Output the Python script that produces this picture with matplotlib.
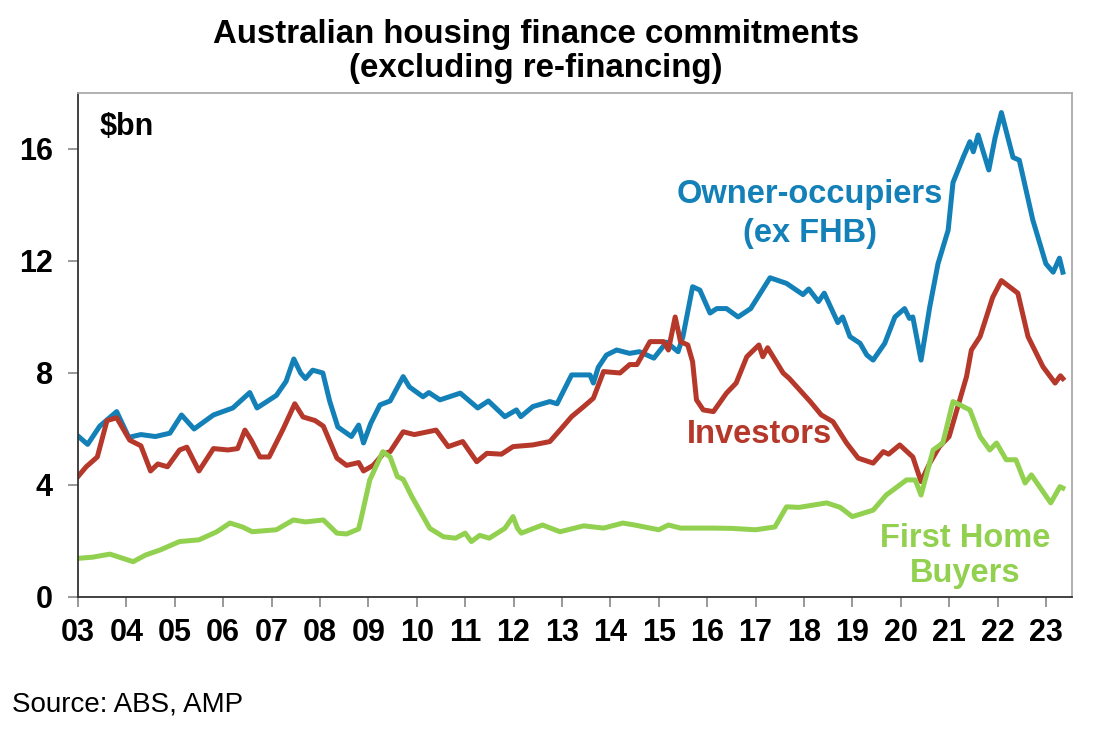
import matplotlib.pyplot as plt

plt.rcParams['font.family'] = ['Liberation Sans', 'DejaVu Sans']

# owner-occupiers (ex first home buyers), $bn
oo_years = [2003.0, 2003.2, 2003.45, 2003.8, 2004.05, 2004.3, 2004.6, 2004.9, 2005.14, 2005.4,
            2005.8, 2006.2, 2006.55, 2006.7, 2007.1, 2007.3, 2007.46, 2007.6, 2007.7, 2007.85,
            2008.06, 2008.2, 2008.37, 2008.65, 2008.8, 2008.9, 2009.05, 2009.24, 2009.45, 2009.72,
            2009.85, 2010.13, 2010.25, 2010.48, 2010.9, 2011.26, 2011.48, 2011.82, 2012.06, 2012.15,
            2012.4, 2012.75, 2012.9, 2013.2, 2013.58, 2013.65, 2013.75, 2013.92, 2014.13, 2014.4,
            2014.6, 2014.9, 2015.16, 2015.4, 2015.5, 2015.7, 2015.85, 2016.06, 2016.2, 2016.4,
            2016.64, 2016.9, 2017.1, 2017.3, 2017.64, 2017.98, 2018.1, 2018.3, 2018.42, 2018.7,
            2018.8, 2018.95, 2019.16, 2019.3, 2019.43, 2019.67, 2019.88, 2020.08, 2020.18, 2020.25,
            2020.42, 2020.6, 2020.77, 2020.98, 2021.08, 2021.29, 2021.43, 2021.5, 2021.6, 2021.82,
            2021.95, 2022.08, 2022.32, 2022.45, 2022.73, 2023.0, 2023.15, 2023.28, 2023.35]
oo_vals = [5.75, 5.45, 6.1, 6.62, 5.7, 5.8, 5.73, 5.85, 6.5, 6.0,
           6.5, 6.75, 7.3, 6.75, 7.2, 7.7, 8.5, 8.0, 7.8, 8.1,
           8.0, 7.0, 6.07, 5.73, 6.14, 5.5, 6.2, 6.86, 7.0, 7.87,
           7.5, 7.15, 7.3, 7.04, 7.28, 6.75, 7.0, 6.44, 6.68, 6.44,
           6.8, 6.98, 6.9, 7.93, 7.93, 7.64, 8.2, 8.64, 8.82, 8.7,
           8.76, 8.53, 9.1, 8.76, 9.3, 11.08, 10.96, 10.14, 10.3, 10.3,
           10.0, 10.3, 10.85, 11.4, 11.2, 10.8, 11.0, 10.55, 10.85, 9.8,
           10.0, 9.3, 9.06, 8.64, 8.46, 9.06, 10.0, 10.3, 9.95, 10.0,
           8.46, 10.36, 11.9, 13.1, 14.8, 15.7, 16.26, 15.9, 16.5, 15.25,
           16.4, 17.3, 15.7, 15.6, 13.46, 11.9, 11.6, 12.1, 11.6]

# investors, $bn
inv_years = [2003.0, 2003.17, 2003.4, 2003.6, 2003.8, 2004.07, 2004.3, 2004.5, 2004.65, 2004.85,
             2005.1, 2005.25, 2005.5, 2005.8, 2006.1, 2006.3, 2006.45, 2006.58, 2006.76, 2006.95,
             2007.24, 2007.48, 2007.65, 2007.9, 2008.07, 2008.35, 2008.55, 2008.8, 2008.9, 2009.1,
             2009.3, 2009.45, 2009.72, 2009.95, 2010.4, 2010.65, 2010.95, 2011.24, 2011.45, 2011.75,
             2011.99, 2012.4, 2012.75, 2012.96, 2013.2, 2013.45, 2013.65, 2013.86, 2014.2, 2014.4,
             2014.55, 2014.82, 2015.1, 2015.2, 2015.34, 2015.45, 2015.6, 2015.7, 2015.78, 2015.92,
             2016.13, 2016.4, 2016.6, 2016.82, 2017.07, 2017.15, 2017.25, 2017.57, 2017.7, 2018.13,
             2018.36, 2018.6, 2018.88, 2019.12, 2019.43, 2019.64, 2019.75, 2019.98, 2020.25, 2020.42,
             2020.6, 2020.8, 2021.0, 2021.18, 2021.36, 2021.46, 2021.64, 2021.9, 2022.08, 2022.42,
             2022.63, 2022.94, 2023.19, 2023.3, 2023.35]
inv_vals = [4.3, 4.65, 5.0, 6.3, 6.4, 5.6, 5.4, 4.5, 4.75, 4.65,
            5.25, 5.35, 4.5, 5.3, 5.25, 5.3, 5.96, 5.6, 5.0, 5.0,
            6.0, 6.9, 6.43, 6.3, 6.1, 4.96, 4.7, 4.8, 4.5, 4.7,
            5.1, 5.19, 5.9, 5.8, 5.96, 5.37, 5.55, 4.83, 5.13, 5.1,
            5.37, 5.43, 5.55, 5.96, 6.44, 6.8, 7.1, 8.05, 8.0, 8.3,
            8.3, 9.12, 9.12, 8.82, 10.0, 9.12, 9.0, 8.4, 7.04, 6.68,
            6.62, 7.28, 7.64, 8.58, 9.0, 8.58, 8.9, 8.0, 7.8, 6.98,
            6.5, 6.26, 5.5, 4.96, 4.78, 5.19, 5.1, 5.43, 5.0, 4.12,
            4.78, 5.37, 5.73, 6.8, 7.87, 8.82, 9.3, 10.7, 11.3, 10.85,
            9.3, 8.22, 7.64, 7.9, 7.8]

# first home buyers, $bn
fhb_years = [2003.0, 2003.3, 2003.66, 2004.14, 2004.4, 2004.7, 2005.1, 2005.5, 2005.87, 2006.14,
             2006.4, 2006.6, 2007.1, 2007.45, 2007.7, 2008.07, 2008.35, 2008.55, 2008.8, 2008.86,
             2009.03, 2009.3, 2009.45, 2009.6, 2009.72, 2009.9, 2010.27, 2010.55, 2010.8, 2011.0,
             2011.13, 2011.3, 2011.5, 2011.82, 2011.99, 2012.08, 2012.16, 2012.6, 2012.96, 2013.45,
             2013.86, 2014.26, 2014.5, 2015.0, 2015.2, 2015.45, 2016.1, 2016.5, 2017.0, 2017.4,
             2017.64, 2017.9, 2018.47, 2018.75, 2019.0, 2019.43, 2019.7, 2020.12, 2020.3, 2020.42,
             2020.67, 2020.87, 2021.08, 2021.43, 2021.64, 2021.84, 2021.98, 2022.18, 2022.38, 2022.57,
             2022.7, 2023.1, 2023.29, 2023.35]
fhb_vals = [1.38, 1.42, 1.53, 1.26, 1.5, 1.68, 1.98, 2.04, 2.33, 2.64,
            2.5, 2.33, 2.4, 2.75, 2.68, 2.75, 2.28, 2.25, 2.43, 2.87,
            4.18, 5.19, 5.0, 4.3, 4.2, 3.58, 2.45, 2.15, 2.1, 2.28,
            1.98, 2.2, 2.1, 2.45, 2.87, 2.46, 2.28, 2.57, 2.33, 2.54,
            2.46, 2.64, 2.57, 2.4, 2.57, 2.46, 2.46, 2.45, 2.4, 2.5,
            3.22, 3.2, 3.36, 3.2, 2.87, 3.1, 3.64, 4.18, 4.18, 3.64,
            5.25, 5.5, 6.98, 6.68, 5.73, 5.25, 5.5, 4.9, 4.9, 4.07,
            4.36, 3.36, 3.94, 3.89]

year_ticks = list(range(2003, 2024))
year_labels = ["%02d" % (y % 100) for y in year_ticks]

blue = "#1380B8"
red = "#B5382A"
green = "#92D050"

fig = plt.figure(figsize=(11.01, 7.35), dpi=100)
ax = fig.add_axes([0.0708, 0.1878, 0.9029, 0.6857])

ax.plot(oo_years, oo_vals, color=blue, lw=3.6, solid_joinstyle="round")
ax.plot(inv_years, inv_vals, color=red, lw=3.6, solid_joinstyle="round")
ax.plot(fhb_years, fhb_vals, color=green, lw=3.6, solid_joinstyle="round")

ax.set_xlim(2003, 2023.54)
ax.set_ylim(0, 18)
ax.set_xticks(year_ticks)
ax.set_xticklabels(year_labels)
ax.set_yticks([0, 4, 8, 12, 16])
ax.tick_params(axis="both", direction="out", length=7, width=1.2, color="#888888",
               labelsize=22)
ax.tick_params(axis="y", pad=11)
ax.tick_params(axis="x", pad=8)
for lab in ax.get_xticklabels() + ax.get_yticklabels():
    lab.set_fontweight("bold")

for side in ["left", "bottom"]:
    ax.spines[side].set_color("#333333")
    ax.spines[side].set_linewidth(1.3)
for side in ["top", "right"]:
    ax.spines[side].set_color("#aaaaaa")
    ax.spines[side].set_linewidth(1.3)

ax.text(2003.45, 16.8, "$bn", fontsize=22, fontweight="bold", ha="left", va="center")
ax.text(2018.12, 13.68, "Owner-occupiers\n(ex FHB)", color=blue, fontsize=23.5, fontweight="bold",
        ha="center", va="center", linespacing=1.3)
ax.text(2017.09, 5.79, "Investors", color=red, fontsize=23.5, fontweight="bold",
        ha="center", va="center")
ax.text(2021.33, 1.46, "First Home\nBuyers", color=green, fontsize=23.5, fontweight="bold",
        ha="center", va="center", linespacing=1.2)

fig.text(0.487, 0.93, "Australian housing finance commitments\n(excluding re-financing)",
         fontsize=23.8, fontweight="bold", ha="center", va="center", linespacing=1.12)
fig.text(0.011, 0.041, "Source: ABS, AMP", fontsize=20, ha="left", va="center")

fig.savefig("out.png", dpi=100)
